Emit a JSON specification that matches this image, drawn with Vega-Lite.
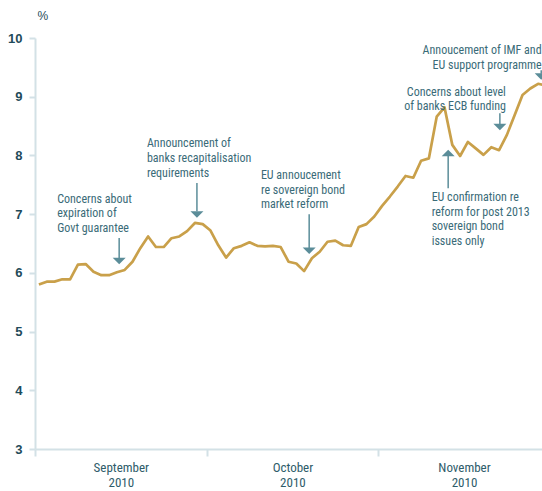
{
  "$schema": "https://vega.github.io/schema/vega-lite/v6.json",
  "width": 507,
  "height": 411,
  "autosize": {"type": "none"},
  "padding": {"left": 35, "top": 38, "right": 0, "bottom": 42},
  "background": "white",
  "config": {"view": {"stroke": null}, "font": "Roboto Condensed"},
  "datasets": {
    "series": [
      {"k": 0, "v": 5.80}, {"k": 1, "v": 5.85}, {"k": 2, "v": 5.85}, {"k": 3, "v": 5.89}, {"k": 4, "v": 5.89},
      {"k": 5, "v": 6.14}, {"k": 6, "v": 6.15}, {"k": 7, "v": 6.02}, {"k": 8, "v": 5.96}, {"k": 9, "v": 5.96},
      {"k": 10, "v": 6.01}, {"k": 11, "v": 6.05}, {"k": 12, "v": 6.19}, {"k": 13, "v": 6.42}, {"k": 14, "v": 6.62},
      {"k": 15, "v": 6.44}, {"k": 16, "v": 6.44}, {"k": 17, "v": 6.59}, {"k": 18, "v": 6.62}, {"k": 19, "v": 6.71},
      {"k": 20, "v": 6.85}, {"k": 21, "v": 6.83}, {"k": 22, "v": 6.72}, {"k": 23, "v": 6.47}, {"k": 24, "v": 6.26},
      {"k": 25, "v": 6.42}, {"k": 26, "v": 6.46}, {"k": 27, "v": 6.52}, {"k": 28, "v": 6.46}, {"k": 29, "v": 6.45},
      {"k": 30, "v": 6.46}, {"k": 31, "v": 6.44}, {"k": 32, "v": 6.19}, {"k": 33, "v": 6.16}, {"k": 34, "v": 6.03},
      {"k": 35, "v": 6.25}, {"k": 36, "v": 6.36}, {"k": 37, "v": 6.53}, {"k": 38, "v": 6.55}, {"k": 39, "v": 6.47},
      {"k": 40, "v": 6.46}, {"k": 41, "v": 6.78}, {"k": 42, "v": 6.83}, {"k": 43, "v": 6.96}, {"k": 44, "v": 7.14},
      {"k": 45, "v": 7.30}, {"k": 46, "v": 7.47}, {"k": 47, "v": 7.65}, {"k": 48, "v": 7.62}, {"k": 49, "v": 7.91},
      {"k": 50, "v": 7.95}, {"k": 51, "v": 8.66}, {"k": 52, "v": 8.82}, {"k": 53, "v": 8.18}, {"k": 54, "v": 7.99},
      {"k": 55, "v": 8.23}, {"k": 56, "v": 8.12}, {"k": 57, "v": 8.01}, {"k": 58, "v": 8.14}, {"k": 59, "v": 8.09},
      {"k": 60, "v": 8.35}, {"k": 61, "v": 8.69}, {"k": 62, "v": 9.03}, {"k": 63, "v": 9.14}, {"k": 64, "v": 9.22},
      {"k": 65, "v": 9.19}
    ],
    "stems": [
      {"k": 10.29, "y1": 6.594, "y2": 6.25},
      {"k": 20.26, "y1": 7.53, "y2": 7.05},
      {"k": 34.65, "y1": 7.0, "y2": 6.42},
      {"k": 59.1, "y1": 8.72, "y2": 8.535},
      {"k": 64.4, "y1": 9.45, "y2": 9.39},
      {"k": 52.47, "y1": 7.99, "y2": 7.44}
    ],
    "heads": [
      {"k": 10.29, "v": 6.202, "dir": "down"},
      {"k": 20.26, "v": 6.994, "dir": "down"},
      {"k": 34.65, "v": 6.377, "dir": "down"},
      {"k": 59.1, "v": 8.484, "dir": "down"},
      {"k": 64.4, "v": 9.344, "dir": "down"},
      {"k": 52.47, "v": 8.041, "dir": "up"}
    ],
    "notes": [
      {"k": 2.35, "v": 7.258, "t": "Concerns about", "a": "left"},
      {"k": 2.35, "v": 7.011, "t": "expiration of", "a": "left"},
      {"k": 2.35, "v": 6.764, "t": "Govt guarantee", "a": "left"},
      {"k": 13.85, "v": 8.212, "t": "Announcement of", "a": "left"},
      {"k": 13.85, "v": 7.956, "t": "banks recapitalisation", "a": "left"},
      {"k": 13.85, "v": 7.701, "t": "requirements", "a": "left"},
      {"k": 28.46, "v": 7.667, "t": "EU annoucement", "a": "left"},
      {"k": 28.46, "v": 7.411, "t": "re sovereign bond", "a": "left"},
      {"k": 28.46, "v": 7.168, "t": "market reform", "a": "left"},
      {"k": 50.35, "v": 7.292, "t": "EU confirmation re", "a": "left"},
      {"k": 50.35, "v": 7.037, "t": "reform for post 2013", "a": "left"},
      {"k": 50.35, "v": 6.790, "t": "sovereign bond", "a": "left"},
      {"k": 50.35, "v": 6.543, "t": "issues only", "a": "left"},
      {"k": 59.87, "v": 9.085, "t": "Concerns about level", "a": "right"},
      {"k": 59.87, "v": 8.842, "t": "of banks ECB funding", "a": "right"},
      {"k": 64.45, "v": 9.796, "t": "Annoucement of IMF and", "a": "right"},
      {"k": 64.45, "v": 9.548, "t": "EU support programme", "a": "right"}
    ]
  },
  "layer": [
    {
      "data": {"name": "series"},
      "mark": {"type": "line", "color": "#c9a04a", "strokeWidth": 2.7, "strokeJoin": "round"},
      "encoding": {
        "x": {
          "field": "k", "type": "quantitative",
          "scale": {"domain": [-0.5, 64.5], "nice": false, "zero": false},
          "axis": {
            "title": null,
            "values": [-0.5, 10.5, 21.5, 32.5, 43.5, 54.5],
            "labelExpr": "datum.value == 10.5 ? ['September','2010'] : datum.value == 32.5 ? ['October','2010'] : datum.value == 54.5 ? ['November','2010'] : ''",
            "grid": false,
            "domainColor": "#d3e1e6", "domainWidth": 2,
            "tickColor": "#d3e1e6", "tickWidth": 2, "tickSize": 7,
            "tickOpacity": {"condition": {"test": "datum.value == 10.5 || datum.value == 32.5 || datum.value == 54.5", "value": 0}, "value": 1},
            "labelFont": "Roboto Condensed", "labelFontSize": 13, "labelColor": "#2e5c6a",
            "labelLineHeight": 15, "labelPadding": 5, "labelOverlap": false, "labelFlush": false, "labelBound": false
          }
        },
        "y": {
          "field": "v", "type": "quantitative",
          "scale": {"domain": [3, 10], "nice": false, "zero": false},
          "axis": {
            "values": [3, 4, 5, 6, 7, 8, 9, 10],
            "format": "d",
            "grid": false,
            "domainColor": "#d3e1e6", "domainWidth": 2,
            "tickColor": "#d3e1e6", "tickWidth": 2, "tickSize": 6,
            "labelFont": "Liberation Sans", "labelFontSize": 13, "labelFontWeight": "bold", "labelColor": "#1f4b5a",
            "labelPadding": 7,
            "title": "%", "titleAngle": 0, "titleX": 2, "titleY": -19, "titleAlign": "left", "titleBaseline": "alphabetic",
            "titleFont": "Liberation Sans", "titleFontSize": 12, "titleFontWeight": "normal", "titleColor": "#1f4b5a"
          }
        }
      }
    },
    {
      "mark": {"type": "rule", "color": "#d3e1e6", "strokeWidth": 2},
      "encoding": {"y": {"datum": 10, "type": "quantitative"}}
    },
    {
      "data": {"name": "stems"},
      "mark": {"type": "rule", "color": "#5b8d99", "strokeWidth": 1.5},
      "encoding": {
        "x": {"field": "k", "type": "quantitative"},
        "y": {"field": "y1", "type": "quantitative"},
        "y2": {"field": "y2"}
      }
    },
    {
      "data": {"name": "heads"},
      "mark": {"type": "point", "filled": true, "color": "#5b8d99", "opacity": 1, "size": 169, "strokeWidth": 0},
      "encoding": {
        "x": {"field": "k", "type": "quantitative"},
        "y": {"field": "v", "type": "quantitative"},
        "shape": {"field": "dir", "type": "nominal", "scale": {"domain": ["down", "up"], "range": ["M-1,-0.5L1,-0.5L0,0.5Z", "M-1,0.5L1,0.5L0,-0.5Z"]}, "legend": null}
      }
    },
    {
      "data": {"name": "notes"},
      "transform": [{"filter": "datum.a == 'left'"}],
      "mark": {"type": "text", "align": "left", "baseline": "middle", "fontSize": 12, "color": "#3a6b78", "font": "Roboto Condensed"},
      "encoding": {
        "x": {"field": "k", "type": "quantitative"},
        "y": {"field": "v", "type": "quantitative"},
        "text": {"field": "t"}
      }
    },
    {
      "data": {"name": "notes"},
      "transform": [{"filter": "datum.a == 'right'"}],
      "mark": {"type": "text", "align": "right", "baseline": "middle", "fontSize": 12, "color": "#3a6b78", "font": "Roboto Condensed"},
      "encoding": {
        "x": {"field": "k", "type": "quantitative"},
        "y": {"field": "v", "type": "quantitative"},
        "text": {"field": "t"}
      }
    }
  ]
}
